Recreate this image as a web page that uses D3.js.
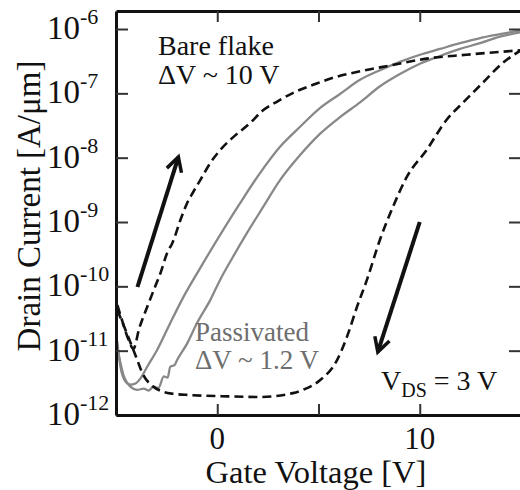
<!DOCTYPE html>
<html>
<head>
<meta charset="utf-8">
<script src="https://cdn.jsdelivr.net/npm/d3@7"></script>
<style>
  html, body { margin: 0; padding: 0; background: #fff; }
  svg { display: block; }
</style>
</head>
<body>
<svg id="chart" width="520" height="490"></svg>
<script>
// ---------- data (gate voltage [V], log10 drain current [A/um]) ----------
const bareFwdV   = [-4.93,-4.68,-4.38,-4.14,-3.85,-3.46,-3.1,-2.81,-2.46,-2.22,-1.82,-1.48,-1.18,-0.84,-0.34,0.15,0.79,1.63,2.2,3.0,3.9,4.8,5.6,7.0,8.67,10.34,12.3,15];
const bareFwdLog = [-10.29,-10.55,-10.83,-10.97,-10.65,-10.32,-10.03,-9.8,-9.47,-9.33,-8.97,-8.7,-8.53,-8.35,-8.08,-7.88,-7.68,-7.46,-7.28,-7.12,-6.97,-6.86,-6.77,-6.66,-6.56,-6.46,-6.4,-6.33];

const bareRevV   = [-4.93,-4.53,-4.04,-3.65,-3.2,-2.66,-2.2,-1.33,0.5,2.12,3.74,4.3,5.07,5.91,6.4,6.9,7.39,8.03,8.67,9.36,10.34,11.33,12.12,13.1,14.09,15];
const bareRevLog = [-10.37,-10.68,-11.07,-11.38,-11.55,-11.64,-11.67,-11.69,-11.71,-11.72,-11.66,-11.6,-11.46,-11.15,-10.79,-10.32,-9.9,-9.28,-8.77,-8.3,-7.88,-7.41,-7.15,-6.84,-6.53,-6.33];

const passAV   = [-4.94,-4.78,-4.53,-4.29,-4.04,-3.79,-3.46,-2.97,-2.32,-1.66,-0.85,1.12,2.11,3.1,4.09,5.07,6.06,7.05,8.04,9.02,10.01,11.0,11.99,12.98,13.96,15];
const passALog = [-10.85,-11.25,-11.48,-11.53,-11.51,-11.43,-11.25,-10.99,-10.57,-10.16,-9.72,-8.71,-8.24,-7.83,-7.52,-7.23,-7.01,-6.79,-6.64,-6.51,-6.4,-6.31,-6.22,-6.14,-6.08,-6.02];

const passBV   = [-4.94,-4.61,-4.29,-3.96,-3.63,-3.4,-3.14,-2.9,-2.64,-2.45,-2.32,-2.1,-1.99,-1.49,-1.0,-0.34,0.14,0.78,1.47,2.26,3.1,4.09,5.07,6.06,7.05,8.04,9.02,10.01,11.0,11.99,12.98,13.96,15];
const passBLog = [-10.95,-11.4,-11.56,-11.61,-11.59,-11.62,-11.56,-11.58,-11.4,-11.42,-11.25,-11.22,-11.15,-10.89,-10.57,-10.21,-9.9,-9.54,-9.17,-8.77,-8.35,-7.96,-7.63,-7.37,-7.14,-6.89,-6.7,-6.54,-6.42,-6.31,-6.22,-6.12,-6.05];

// arrows: [V start, log start, V tip, log tip]
const arrowUp   = [-3.94, -10.01, -1.92, -7.99];
const arrowDown = [10.0, -9.0, 7.93, -11.02];

const xTicks = [0, 5, 10];
const xTickLabels = ["0", "10"];
const xTickLabelValues = [0, 10];
const yTickExps = [-12, -11, -10, -9, -8, -7, -6];

const FONT = "'Liberation Serif', 'Times New Roman', Tinos, serif";

// ---------- scales ----------
const svg = d3.select("#chart").attr("font-family", FONT);
const x = d3.scaleLinear().domain([-5, 15]).range([116, 521]);
const y = d3.scaleLog().domain([1e-12, Math.pow(10, -5.72)]).range([415, 11]);
const toPts = (vs, ls) => vs.map((v, i) => [v, Math.pow(10, ls[i])]);

// ---------- clip ----------
svg.append("defs").append("clipPath").attr("id", "clip")
  .append("rect").attr("x", x(-5)).attr("y", y.range()[1])
  .attr("width", x(15) - x(-5)).attr("height", y.range()[0] - y.range()[1]);

const line = d3.line().x(d => x(d[0])).y(d => y(d[1])).curve(d3.curveMonotoneX);
const plot = svg.append("g").attr("clip-path", "url(#clip)");

plot.append("path").datum(toPts(passAV, passALog)).attr("d", line)
  .attr("fill", "none").attr("stroke", "#888").attr("stroke-width", 2.3);
plot.append("path").datum(toPts(passBV, passBLog)).attr("d", line)
  .attr("fill", "none").attr("stroke", "#888").attr("stroke-width", 2.3);
plot.append("path").datum(toPts(bareFwdV, bareFwdLog)).attr("d", line)
  .attr("fill", "none").attr("stroke", "#111").attr("stroke-width", 2.6)
  .attr("stroke-dasharray", "9,5");
plot.append("path").datum(toPts(bareRevV, bareRevLog)).attr("d", line)
  .attr("fill", "none").attr("stroke", "#111").attr("stroke-width", 2.6)
  .attr("stroke-dasharray", "9,5");

// ---------- arrows ----------
function drawArrow(a) {
  const x1 = x(a[0]), y1 = y(Math.pow(10, a[1])), x2 = x(a[2]), y2 = y(Math.pow(10, a[3]));
  const ang = Math.atan2(y2 - y1, x2 - x1);
  const L = 16, spread = 0.5;
  plot.append("line").attr("x1", x1).attr("y1", y1).attr("x2", x2).attr("y2", y2)
    .attr("stroke", "#111").attr("stroke-width", 4);
  const p = [[x2 - L * Math.cos(ang - spread), y2 - L * Math.sin(ang - spread)], [x2, y2],
             [x2 - L * Math.cos(ang + spread), y2 - L * Math.sin(ang + spread)]];
  plot.append("path").attr("d", d3.line()(p)).attr("fill", "none")
    .attr("stroke", "#111").attr("stroke-width", 3.5).attr("stroke-linejoin", "miter");
}
drawArrow(arrowUp);
drawArrow(arrowDown);

// ---------- axes ----------
const axStyle = g => {
  g.attr("font-family", null);
  g.select(".domain").attr("stroke", "#111").attr("stroke-width", 3);
  g.selectAll(".tick line").attr("stroke", "#333").attr("stroke-width", 2);
};
const yVals = yTickExps.map(e => Math.pow(10, e));
svg.append("g").attr("transform", `translate(${x(-5)},0)`)
  .call(d3.axisLeft(y).tickValues(yVals).tickSizeInner(-12).tickSizeOuter(0).tickFormat(""))
  .call(axStyle);
svg.append("g").attr("transform", `translate(${x(15)},0)`)
  .call(d3.axisRight(y).tickValues(yVals).tickSizeInner(-12).tickSizeOuter(0).tickFormat(""))
  .call(axStyle);
svg.append("g").attr("transform", `translate(0,${y.range()[0]})`)
  .call(d3.axisBottom(x).tickValues(xTicks).tickSizeInner(-11).tickSizeOuter(0).tickFormat(""))
  .call(axStyle);
svg.append("g").attr("transform", `translate(0,${y.range()[1]})`)
  .call(d3.axisTop(x).tickValues(xTicks).tickSizeInner(-11).tickSizeOuter(0).tickFormat(""))
  .call(axStyle);

const txt = (sel) => sel.append("text").attr("font-family", FONT);

// y tick labels
yTickExps.forEach(e => {
  const yy = y(Math.pow(10, e));
  const t = txt(svg).attr("x", 47).attr("y", yy + 10).attr("fill", "#111");
  t.append("tspan").attr("font-size", 33).text("10");
  t.append("tspan").attr("font-size", 22).attr("dy", -15).text(String(e));
});

// x tick labels
xTickLabelValues.forEach((v, i) => {
  txt(svg).attr("x", x(v)).attr("y", 449).attr("text-anchor", "middle")
    .attr("font-size", 31).attr("fill", "#111").text(xTickLabels[i]);
});

// axis titles
txt(svg).attr("x", 316).attr("y", 483).attr("text-anchor", "middle")
  .attr("font-size", 32.5).attr("fill", "#111").text("Gate Voltage [V]");
txt(svg).attr("transform", "translate(40,206) rotate(-90)").attr("text-anchor", "middle")
  .attr("font-size", 33).attr("fill", "#111").text("Drain Current [A/μm]");

// annotations
txt(svg).attr("x", 158).attr("y", 55).attr("font-size", 28).attr("fill", "#111").text("Bare flake");
txt(svg).attr("x", 158).attr("y", 84).attr("font-size", 28).attr("fill", "#111").text("ΔV ~ 10 V");
txt(svg).attr("x", 195).attr("y", 341).attr("font-size", 27).attr("fill", "#6e6e6e").text("Passivated");
txt(svg).attr("x", 195).attr("y", 369).attr("font-size", 27).attr("fill", "#6e6e6e").text("ΔV ~ 1.2 V");
const vds = txt(svg).attr("x", 381).attr("y", 390).attr("font-size", 28).attr("fill", "#111");
vds.append("tspan").text("V");
vds.append("tspan").attr("font-size", 20).attr("dy", 7).text("DS");
vds.append("tspan").attr("dy", -7).text(" = 3 V");
</script>
</body>
</html>
